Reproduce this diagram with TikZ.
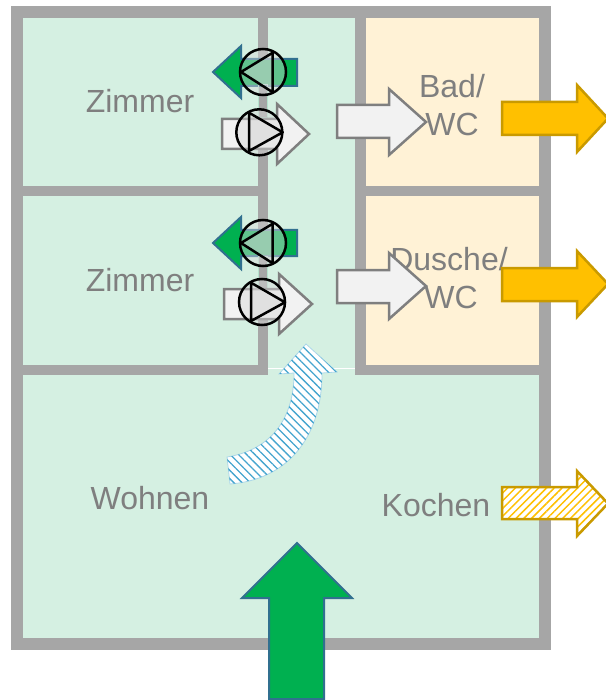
\documentclass[tikz,border=0pt]{standalone}
\usepackage{fontspec}
\setmainfont{Liberation Sans}
\usetikzlibrary{patterns.meta}
\definecolor{wallc}{HTML}{A6A6A6}
\definecolor{roomg}{HTML}{D5F0E2}
\definecolor{roomy}{HTML}{FFF2D6}
\definecolor{txtc}{HTML}{7F7F7F}
\definecolor{greenf}{HTML}{00B050}
\definecolor{greend}{HTML}{31708F}
\definecolor{whitef}{HTML}{F2F2F2}
\definecolor{orangef}{HTML}{FFC000}
\definecolor{oranged}{HTML}{C99A00}
\definecolor{hatchb}{HTML}{45A5CF}
\definecolor{pumpg}{HTML}{D9D9D9}
\definecolor{linkc}{HTML}{B5E3CD}
\tikzset{
  wall/.style={fill=wallc,draw=none},
  greenroom/.style={fill=roomg,draw=none},
  yellowroom/.style={fill=roomy,draw=none},
  label/.style={text=txtc,font=\fontsize{32}{36}\selectfont,inner sep=0pt,align=center},
  greenarrow/.style={fill=greenf,draw=greend,line width=2pt,line join=miter},
  whitearrow/.style={fill=whitef,draw=txtc,line width=2.5pt,line join=miter},
  orangearrow/.style={fill=orangef,draw=oranged,line width=2.5pt,line join=miter},
  orangehatch/.style={draw=oranged,line width=2.5pt,line join=miter,
    pattern={Lines[angle=45,distance=5.5pt,line width=1.5pt]},pattern color=orangef},
  bluehatch/.style={draw=hatchb!45,line width=.8pt,fill=white},
  bluehatchfill/.style={pattern={Lines[angle=-45,distance=5.8pt,line width=1.3pt]},pattern color=hatchb},
  pumpdisc/.style={circle,minimum size=46pt,inner sep=0pt,draw=black,line width=2.5pt,fill=none},
  pumpfill/.style={fill=pumpg,fill opacity=.45,draw=none},
  pumptri/.style={draw=black,line width=2.5pt,line join=round,fill=pumpg,fill opacity=.45},
  link/.style={draw=linkc,line width=1pt},
}
\begin{document}
\begin{tikzpicture}[x=1pt,y=-1pt]
\useasboundingbox (0,0) rectangle (605,700);
\fill[white] (0,0) rectangle (605,700);
% walls and rooms
\fill[wall] (11,6) rectangle (551,650);
\fill[greenroom] (23,18) rectangle (539,638);
\fill[yellowroom] (366,18) rectangle (539,365);
\fill[wall] (258,18) rectangle (268,375);
\fill[wall] (355,18) rectangle (366,375);
\fill[wall] (23,186) rectangle (268,196);
\fill[wall] (366,186) rectangle (539,196);
\fill[wall] (23,365) rectangle (268,375);
\fill[wall] (355,365) rectangle (539,375);
\draw[white,line width=1pt] (268,368.5) -- (355,368.5);
% texts
\node[label] (z1) at (140,101) {Zimmer};
\node[label] (z2) at (140,280) {Zimmer};
\node[label] (wo) at (150,498) {Wohnen};
\node[label] (ko) at (436,505) {Kochen};
\node[label,anchor=base] (bad) at (452,98) {Bad/};
\node[label,anchor=base] (wc1) at (452,136) {WC};
\node[label,anchor=base] (du) at (449,270) {Dusche/};
\node[label,anchor=base] (wc2) at (451,308) {WC};
% outgoing arrows
\draw[orangearrow] (502,102) -- (577,102) -- (577,85) -- (608,118.5) -- (577,152) -- (577,135) -- (502,135) -- cycle;
\draw[orangearrow] (502,268) -- (577,268) -- (577,251) -- (608,284) -- (577,317) -- (577,301) -- (502,301) -- cycle;
\fill[white] (502,487) -- (577,487) -- (577,471) -- (608,503.5) -- (577,536) -- (577,519) -- (502,519) -- cycle;
\draw[orangehatch] (502,487) -- (577,487) -- (577,471) -- (608,503.5) -- (577,536) -- (577,519) -- (502,519) -- cycle;
% incoming arrow
\draw[greenarrow] (269,699) -- (269,598) -- (242,598) -- (297,543) -- (352,598) -- (324,598) -- (324,699) -- cycle;
% curved flow arrow
\path[bluehatch] (227,457) .. controls (265,451) and (294,425) .. (294,373) -- (279,374) -- (306,344) -- (337,372) -- (322,373) .. controls (322,440) and (285,480) .. (230,484) -- cycle;
\path[bluehatchfill] (227,457) .. controls (265,451) and (294,425) .. (294,373) -- (279,374) -- (306,344) -- (337,372) -- (322,373) .. controls (322,440) and (285,480) .. (230,484) -- cycle;
% first pair of fans
\draw[greenarrow] (297,59) -- (241,59) -- (241,46) -- (213,72) -- (241,98) -- (241,86) -- (297,86) -- cycle;
\draw[link] (258,85) rectangle (267.5,118);
\draw[whitearrow] (222,119) -- (277,119) -- (277,104) -- (309,134) -- (277,164) -- (277,149) -- (222,149) -- cycle;
\draw[whitearrow] (337,105) -- (389,105) -- (389,89) -- (426,122) -- (389,155) -- (389,138) -- (337,138) -- cycle;
\fill[pumpfill] (263,72) circle (23);
\node[pumpdisc] (p1) at (263,72) {};
\draw[pumptri] (241,72) -- (272.7,52.7) -- (272.7,92.3) -- cycle;
\fill[pumpfill] (259.3,132.3) circle (23);
\node[pumpdisc] (p2) at (259.3,132.3) {};
\draw[pumptri] (249,112.7) -- (249,151) -- (282.7,132.3) -- cycle;
% second pair of fans
\draw[greenarrow] (297,230) -- (241,230) -- (241,217) -- (213,243) -- (241,269) -- (241,256) -- (297,256) -- cycle;
\draw[link] (258,256) rectangle (267.5,289);
\draw[whitearrow] (224,289) -- (279,289) -- (279,274) -- (312,304) -- (279,334) -- (279,319) -- (224,319) -- cycle;
\draw[whitearrow] (337,270) -- (389,270) -- (389,253) -- (426,286) -- (389,319) -- (389,303) -- (337,303) -- cycle;
\fill[pumpfill] (263,243) circle (23);
\node[pumpdisc] (p3) at (263,243) {};
\draw[pumptri] (241,243) -- (272.7,223.7) -- (272.7,263.3) -- cycle;
\fill[pumpfill] (262,302) circle (23);
\node[pumpdisc] (p4) at (262,302) {};
\draw[pumptri] (251,282.7) -- (251,321) -- (285,302.3) -- cycle;
\end{tikzpicture}
\end{document}
